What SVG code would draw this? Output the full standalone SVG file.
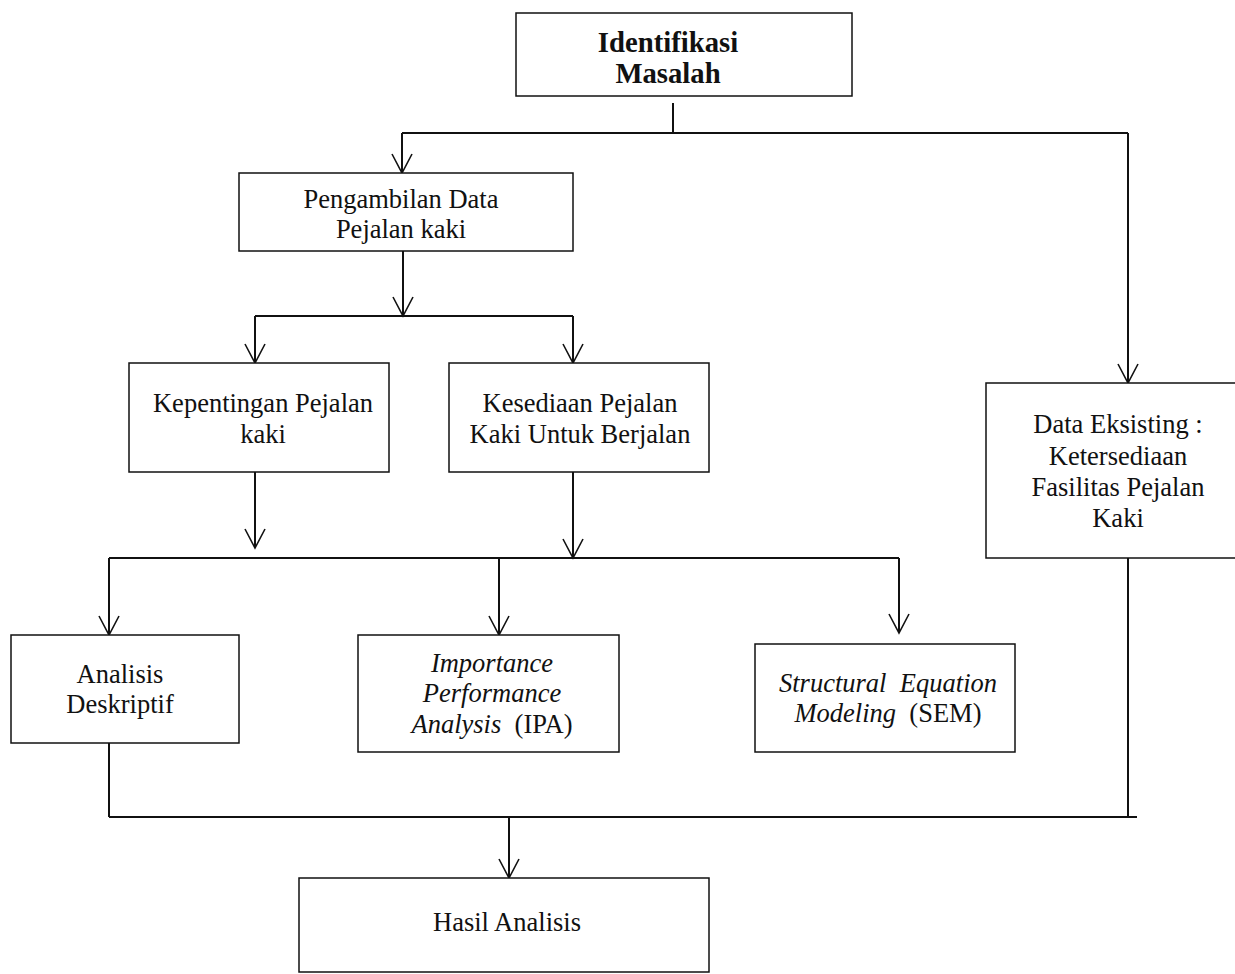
<svg xmlns="http://www.w3.org/2000/svg" width="1235" height="974" viewBox="0 0 1235 974">
<style>
.box{fill:#fff;stroke:#111;stroke-width:1.5}
.t{font-family:"Liberation Serif","Times New Roman",serif;font-size:26.5px;fill:#111;text-anchor:middle}
.b{font-weight:bold;font-size:28.7px}
.i{font-style:italic}
.c{fill:none;stroke:#111;stroke-width:2}
.ca{fill:none;stroke:#111;stroke-width:2;marker-end:url(#arr)}
</style>
<defs>
<marker id="arr" viewBox="-21 -12 23 24" refX="0" refY="0" markerWidth="23" markerHeight="24" markerUnits="userSpaceOnUse" orient="auto">
<path d="M-19,-10 L0,0 L-19,10" fill="none" stroke="#111" stroke-width="1.6"/>
</marker>
</defs>
<rect width="1235" height="974" fill="#fff"/>
<g id="connectors">
<path class="c" d="M673,103 V133"/>
<path class="c" d="M402,133 H1128"/>
<path class="ca" d="M402,133 V173"/>
<path class="ca" d="M1128,133 V383"/>
<path class="ca" d="M403,251 V316"/>
<path class="c" d="M255,316 H573"/>
<path class="ca" d="M255,316 V363"/>
<path class="ca" d="M573,316 V363"/>
<path class="ca" d="M255,472 V548"/>
<path class="ca" d="M573,472 V558"/>
<path class="c" d="M109,558 H899"/>
<path class="ca" d="M109,558 V635"/>
<path class="ca" d="M499,558 V635"/>
<path class="ca" d="M899,558 V633"/>
<path class="c" d="M109,743 V817"/>
<path class="c" d="M1128,558 V817"/>
<path class="c" d="M109,817 H1137"/>
<path class="ca" d="M509,817 V878"/>
</g>
<g id="identifikasi">
<rect class="box" x="516" y="13" width="336" height="83"/>
<text class="t b" x="668" y="52">Identifikasi</text>
<text class="t b" x="668" y="83">Masalah</text>
</g>
<g id="pengambilan">
<rect class="box" x="239" y="173" width="334" height="78"/>
<text class="t" x="401" y="208">Pengambilan Data</text>
<text class="t" x="401" y="238">Pejalan kaki</text>
</g>
<g id="kepentingan">
<rect class="box" x="129" y="363" width="260" height="109"/>
<text class="t" x="263" y="412">Kepentingan Pejalan</text>
<text class="t" x="263" y="443">kaki</text>
</g>
<g id="kesediaan">
<rect class="box" x="449" y="363" width="260" height="109"/>
<text class="t" x="580" y="412">Kesediaan Pejalan</text>
<text class="t" x="580" y="443">Kaki Untuk Berjalan</text>
</g>
<g id="data-eksisting">
<rect class="box" x="986" y="383" width="270" height="175"/>
<text class="t" x="1118" y="433">Data Eksisting :</text>
<text class="t" x="1118" y="465">Ketersediaan</text>
<text class="t" x="1118" y="496">Fasilitas Pejalan</text>
<text class="t" x="1118" y="527">Kaki</text>
</g>
<g id="analisis-deskriptif">
<rect class="box" x="11" y="635" width="228" height="108"/>
<text class="t" x="120" y="683">Analisis</text>
<text class="t" x="120" y="713">Deskriptif</text>
</g>
<g id="ipa">
<rect class="box" x="358" y="635" width="261" height="117"/>
<text class="t i" x="492" y="672">Importance</text>
<text class="t i" x="492" y="702">Performance</text>
<text class="t" x="492" y="733" xml:space="preserve"><tspan class="i">Analysis</tspan>  (IPA)</text>
</g>
<g id="sem">
<rect class="box" x="755" y="644" width="260" height="108"/>
<text class="t i" x="779" y="692" style="text-anchor:start">Structural</text>
<text class="t i" x="997" y="692" style="text-anchor:end">Equation</text>
<text class="t" x="888" y="722" xml:space="preserve"><tspan class="i">Modeling</tspan>  (SEM)</text>
</g>
<g id="hasil">
<rect class="box" x="299" y="878" width="410" height="94"/>
<text class="t" x="507" y="931">Hasil Analisis</text>
</g>
</svg>
